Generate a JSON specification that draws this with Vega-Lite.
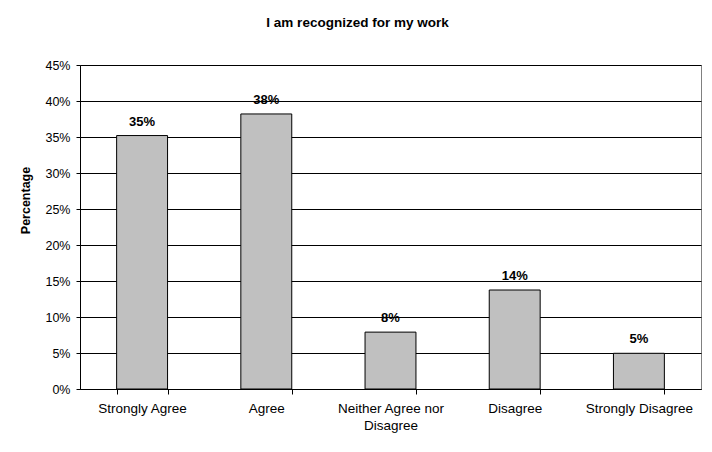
{
  "$schema": "https://vega.github.io/schema/vega-lite/v6.json",
  "width": 621,
  "height": 324,
  "autosize": "none",
  "padding": {"left": 80, "top": 65, "right": 10, "bottom": 63},
  "background": "white",
  "title": {
    "text": "I am recognized for my work",
    "font": "Liberation Sans",
    "fontSize": 13.5,
    "fontWeight": "bold",
    "color": "black",
    "anchor": "middle",
    "dx": -33,
    "offset": 30
  },
  "config": {
    "view": {"stroke": "#808080", "strokeWidth": 1},
    "font": "Liberation Sans"
  },
  "data": {
    "values": [
      {"response": "Strongly Agree", "pct": 0.352},
      {"response": "Agree", "pct": 0.382},
      {"response": "Neither Agree nor Disagree", "pct": 0.079},
      {"response": "Disagree", "pct": 0.1375},
      {"response": "Strongly Disagree", "pct": 0.0496}
    ]
  },
  "encoding": {
    "x": {
      "field": "response",
      "type": "nominal",
      "sort": null,
      "scale": {"paddingInner": 0.59, "paddingOuter": 0.295},
      "axis": {
        "title": null,
        "labelAngle": 0,
        "labelFont": "Liberation Sans",
        "labelFontSize": 13.5,
        "labelColor": "black",
        "labelPadding": 7,
        "labelLineHeight": 17,
        "labelExpr": "datum.value == 'Neither Agree nor Disagree' ? ['Neither Agree nor', 'Disagree'] : datum.value",
        "tickBand": "extent",
        "tickColor": "black",
        "tickSize": 5,
        "domainColor": "black",
        "grid": false
      }
    },
    "y": {
      "field": "pct",
      "type": "quantitative",
      "scale": {"domain": [0, 0.45], "nice": false},
      "axis": {
        "title": "Percentage",
        "titleFont": "Liberation Sans",
        "titleFontSize": 12.5,
        "titleFontWeight": "bold",
        "titleColor": "black",
        "titlePadding": 12,
        "titleY": 135,
        "format": ".0%",
        "values": [0, 0.05, 0.1, 0.15, 0.2, 0.25, 0.3, 0.35, 0.4, 0.45],
        "labelFont": "Liberation Sans",
        "labelFontSize": 12.5,
        "labelColor": "black",
        "labelPadding": 6,
        "tickColor": "black",
        "tickSize": 4,
        "domainColor": "black",
        "grid": true,
        "gridColor": "#000000",
        "gridWidth": 1
      }
    }
  },
  "layer": [
    {
      "mark": {"type": "bar", "fill": "#c0c0c0", "stroke": "black", "strokeWidth": 1}
    },
    {
      "mark": {
        "type": "text",
        "font": "Liberation Sans",
        "fontSize": 13,
        "fontWeight": "bold",
        "color": "black",
        "baseline": "alphabetic",
        "dy": -10
      },
      "encoding": {
        "text": {"field": "pct", "type": "quantitative", "format": ".0%"}
      }
    }
  ]
}
